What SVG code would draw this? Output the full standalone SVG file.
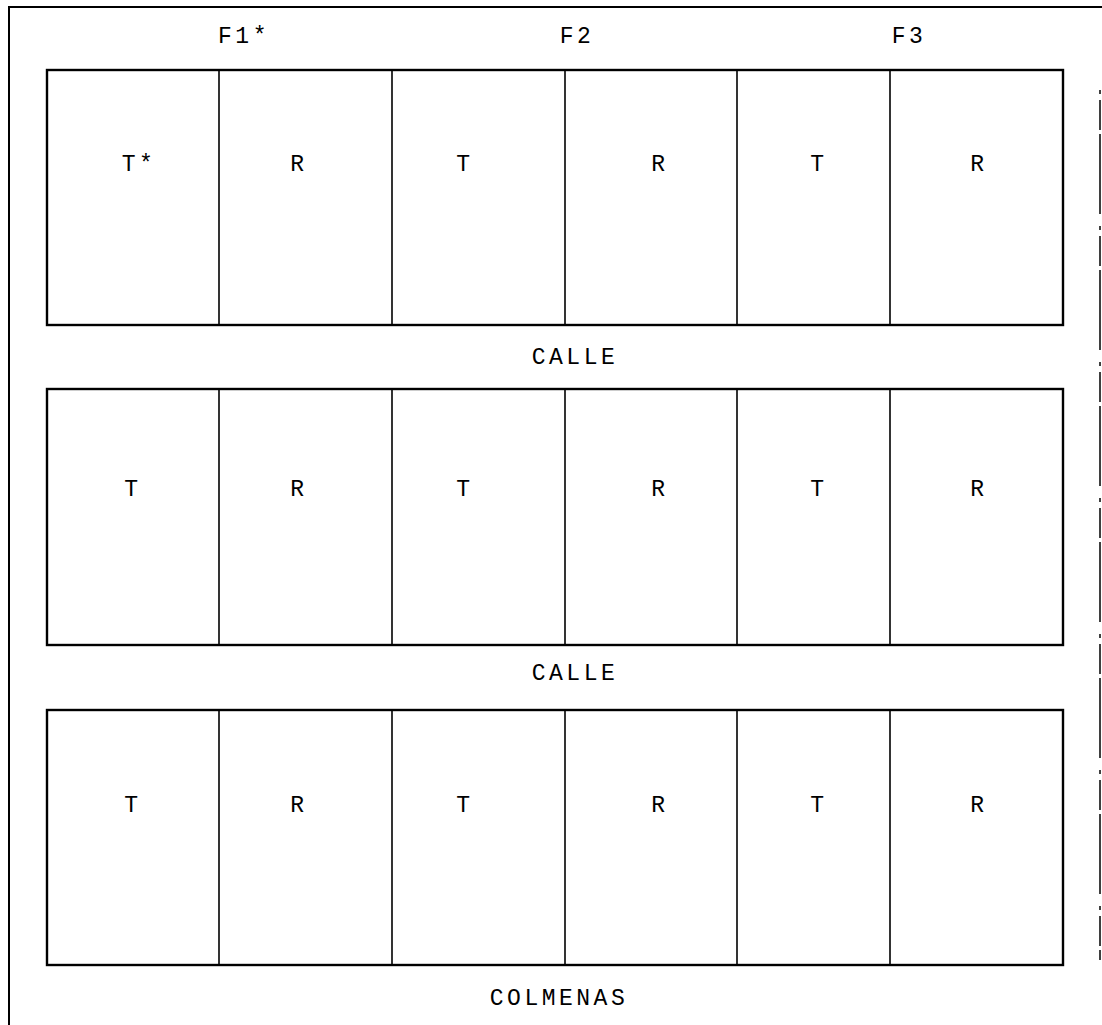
<svg xmlns="http://www.w3.org/2000/svg" width="1102" height="1025" viewBox="0 0 1102 1025">
<style>
.frame{stroke:#000;stroke-width:2;fill:none}
.row{stroke:#000;stroke-width:2.4;fill:#fff}
.div{stroke:#000;stroke-width:1.6}
.lbl{font-family:"Liberation Mono","DejaVu Sans Mono",monospace;font-size:23px;letter-spacing:3.5px;fill:#000;text-anchor:middle}
</style>
<rect width="1102" height="1025" fill="#fff"/>
<g id="frame">
<line class="frame" x1="9" y1="7" x2="1102" y2="7"/>
<line class="frame" x1="9" y1="6" x2="9" y2="1025"/>
<line x1="1100" y1="90" x2="1100" y2="960" stroke="#000" stroke-width="1.5" stroke-dasharray="4 6 30 4 80 12"/>
</g>
<g id="headers">
<text class="lbl" x="244" y="43">F1*</text>
<text class="lbl" x="577" y="43">F2</text>
<text class="lbl" x="909" y="43">F3</text>
</g>
<g id="row1">
<rect class="row" x="47" y="70" width="1016" height="255"/>
<line class="div" x1="219" y1="70" x2="219" y2="325"/>
<line class="div" x1="392" y1="70" x2="392" y2="325"/>
<line class="div" x1="565" y1="70" x2="565" y2="325"/>
<line class="div" x1="737" y1="70" x2="737" y2="325"/>
<line class="div" x1="890" y1="70" x2="890" y2="325"/>
<text class="lbl" x="139" y="171">T*</text>
<text class="lbl" x="299" y="171">R</text>
<text class="lbl" x="465" y="171">T</text>
<text class="lbl" x="660" y="171">R</text>
<text class="lbl" x="819" y="171">T</text>
<text class="lbl" x="979" y="171">R</text>
</g>
<g id="row2">
<rect class="row" x="47" y="389" width="1016" height="256"/>
<line class="div" x1="219" y1="389" x2="219" y2="645"/>
<line class="div" x1="392" y1="389" x2="392" y2="645"/>
<line class="div" x1="565" y1="389" x2="565" y2="645"/>
<line class="div" x1="737" y1="389" x2="737" y2="645"/>
<line class="div" x1="890" y1="389" x2="890" y2="645"/>
<text class="lbl" x="133" y="496">T</text>
<text class="lbl" x="299" y="496">R</text>
<text class="lbl" x="465" y="496">T</text>
<text class="lbl" x="660" y="496">R</text>
<text class="lbl" x="819" y="496">T</text>
<text class="lbl" x="979" y="496">R</text>
</g>
<g id="row3">
<rect class="row" x="47" y="710" width="1016" height="255"/>
<line class="div" x1="219" y1="710" x2="219" y2="965"/>
<line class="div" x1="392" y1="710" x2="392" y2="965"/>
<line class="div" x1="565" y1="710" x2="565" y2="965"/>
<line class="div" x1="737" y1="710" x2="737" y2="965"/>
<line class="div" x1="890" y1="710" x2="890" y2="965"/>
<text class="lbl" x="133" y="812">T</text>
<text class="lbl" x="299" y="812">R</text>
<text class="lbl" x="465" y="812">T</text>
<text class="lbl" x="660" y="812">R</text>
<text class="lbl" x="819" y="812">T</text>
<text class="lbl" x="979" y="812">R</text>
</g>
<g id="streets">
<text class="lbl" x="575" y="364">CALLE</text>
<text class="lbl" x="575" y="680">CALLE</text>
<text class="lbl" x="559" y="1005">COLMENAS</text>
</g>
</svg>
